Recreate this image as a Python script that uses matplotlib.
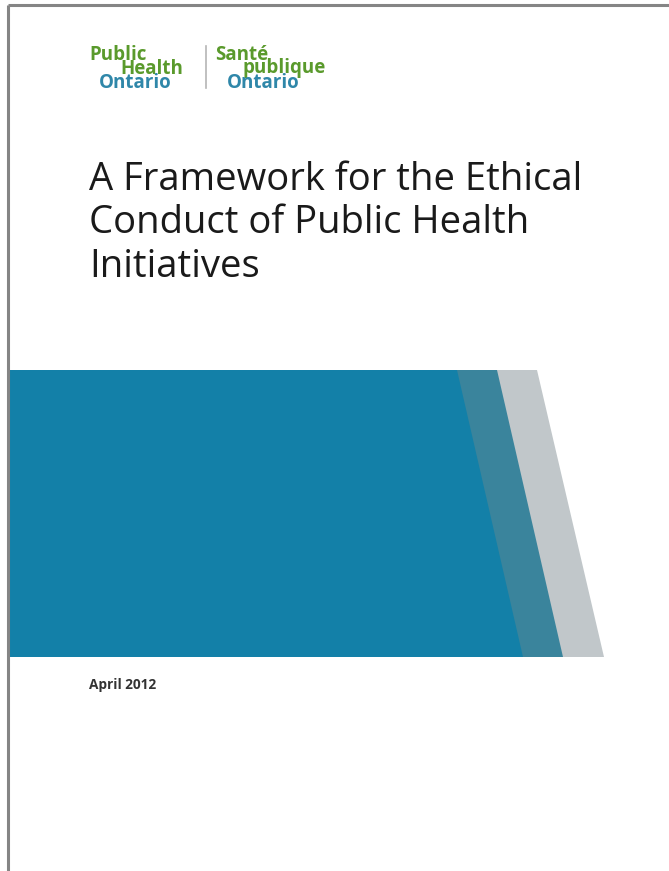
import matplotlib
matplotlib.use("Agg")
import matplotlib.pyplot as plt
from matplotlib.patches import Polygon

# page size in pixels
W, H = 669, 871

# cover band: x positions of the stripe edges at top and bottom of the band
band_top, band_bottom = 370, 657
band_left = 10
edges_top = [457, 497, 537]
edges_bottom = [523, 563, 604]
band_colors = ["#1380a8", "#3a849c", "#c1c7ca"]

title_lines = ["A Framework for the Ethical",
               "Conduct of Public Health",
               "Initiatives"]
title_y = [190, 233, 277]
date_text = "April 2012"

# logo words: text, x, baseline y, colour key
logo_words = [("Public", 89, 60, "g"), ("Health", 120, 74, "g"),
              ("Ontario", 99, 88, "b"), ("Santé", 215, 60, "g"),
              ("publique", 243, 73, "g"), ("Ontario", 227, 88, "b")]

green = "#5a9a2c"
blue = "#2f87a9"

fig = plt.figure(figsize=(W / 100, H / 100), dpi=100)
ax = fig.add_axes([0, 0, 1, 1])
ax.set_xlim(0, W)
ax.set_ylim(H, 0)
ax.axis("off")

# page border (top and left only)
ax.plot([8, W], [5, 5], color="#858585", lw=2.2, solid_capstyle="butt")
ax.plot([8, 8], [5, H], color="#858585", lw=2.2, solid_capstyle="butt")

# stripes, drawn back to front
for i in range(3)[::-1]:
    pts = [(band_left, band_top), (edges_top[i], band_top),
           (edges_bottom[i], band_bottom), (band_left, band_bottom)]
    ax.add_patch(Polygon(pts, closed=True, facecolor=band_colors[i],
                         edgecolor="none"))

# logo
for word, x, y, c in logo_words:
    ax.text(x, y, word, color=green if c == "g" else blue,
            family="Open Sans", fontsize=13.5, fontweight="bold",
            va="baseline", ha="left")
ax.plot([206, 206], [46, 88], color="#b5b5b5", lw=1.2)

# title
for line, y in zip(title_lines, title_y):
    ax.text(89, y, line, family="Open Sans", fontsize=27.5, color="#1a1a1a",
            va="baseline", ha="left")

ax.text(89, 689, date_text, family="Open Sans", fontsize=9.8,
        fontweight="bold", color="#333333", va="baseline", ha="left")

fig.savefig("out.png", dpi=100)
